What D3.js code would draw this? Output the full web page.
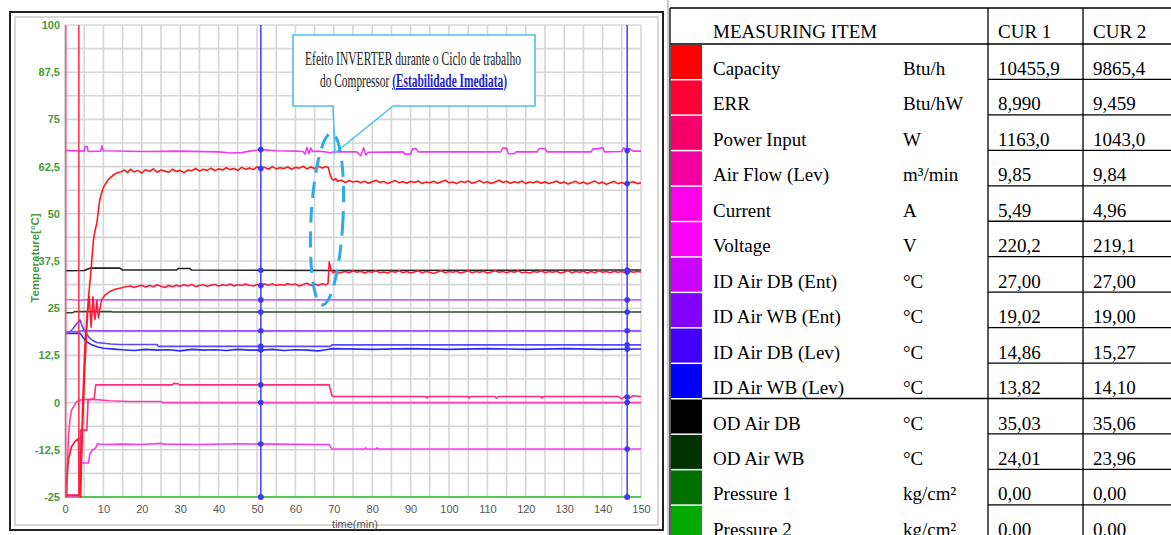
<!DOCTYPE html>
<html>
<head>
<meta charset="utf-8">
<script src="https://cdn.jsdelivr.net/npm/d3@7"></script>
<style>
  body { margin: 0; background: #fff; }
  svg { display: block; }
</style>
</head>
<body>
<div id="chart"></div>
<script>
// Table data
const items = ['Capacity', 'ERR', 'Power Input', 'Air Flow (Lev)', 'Current', 'Voltage',
  'ID Air DB (Ent)', 'ID Air WB (Ent)', 'ID Air DB (Lev)', 'ID Air WB (Lev)',
  'OD Air DB', 'OD Air WB', 'Pressure 1', 'Pressure 2']
const units = ['Btu/h', 'Btu/hW', 'W', 'm³/min', 'A', 'V', '°C', '°C', '°C', '°C', '°C', '°C', 'kg/cm²', 'kg/cm²']
const cur1 = ['10455,9', '8,990', '1163,0', '9,85', '5,49', '220,2', '27,00', '19,02', '14,86', '13,82', '35,03', '24,01', '0,00', '0,00']
const cur2 = ['9865,4', '9,459', '1043,0', '9,84', '4,96', '219,1', '27,00', '19,00', '15,27', '14,10', '35,06', '23,96', '0,00', '0,00']
const swatchColors = ['#ff0000', '#ff0035', '#f5006a', '#f500a0', '#ff00e8', '#ff00ff',
  '#cc00ff', '#8400ff', '#4400ff', '#0000ff', '#000000', '#003300', '#007000', '#00aa00']
const lineColors = ['#ff1a1a', '#ff1a3c', '#ff2a7a', '#ff3cb4', '#f53cf0', '#f03cf0',
  '#c660ff', '#9650ff', '#5a46ff', '#2a2aff', '#222222', '#2b4a2b', '#4cc44c', '#55cc55']

// Cursors and start markers (minutes)
const cursors = [51, 146.4]
const startMarks = [0.2, 3.6]

// Axis ticks
const xTicks = [0, 10, 20, 30, 40, 50, 60, 70, 80, 90, 100, 110, 120, 130, 140, 150]
const yTicks = [-25, -12.5, 0, 12.5, 25, 37.5, 50, 62.5, 75, 87.5, 100]

// Series [time(min), value]
const capacity = [[0.4,-25],[0.5,-20],[0.9,-15],[1.7,-11.7],[2.6,-10.3],[3.5,-9.5],[3.7,-24.5],[3.9,-24.5],
  [4.5,-8],[5.2,10],[5.7,20],[6.1,27.7],[6.6,33],[7.4,43],[7.8,45.5],[8.3,47.6],[8.7,51],[9.1,54],[10,57],
  [11.2,59],[12.5,60.2],[13.5,60.8],[14.8,61.2],[15.5,61.6],[16.3,60.9],[17,61.8],[18,61.1],[19,61.5],[20,60.8],
  [21,61.7],[22,61.2],[23,61.9],[24,61.0],[25,61.6],[26,61.3],[27,61.0],[28,61.8],[29,61.2],[30,61.5],[31,60.9],
  [32,61.6],[33,61.4],[34,62.0],[35,61.3],[36,61.8],[37,61.5],[38,62.1],[39,61.4],[40,61.9],[41,61.6],[42,62.2],
  [43,61.7],[44,62.0],[45,61.5],[46,62.3],[47,61.8],[48,62.1],[49,61.7],[50,62.4],[51,62.0],[52,62.3],[53,61.8],
  [54,62.5],[55,61.9],[56,62.2],[57,62.0],[58,62.4],[59,61.8],[60,62.3],[61,62.1],[62,62.6],[63,61.9],[64,62.4],
  [65,62.0],[66,62.6],[67,62.1],[68,62.5],[68.6,62.2],[69,60.5],[69.5,59.2],[70,58.9],[70.5,59.3],[71,58.6],
  [72,58.9],[73,58.3],[74,58.8],[75,58.4],[76,58.7],[77,58.2],[78,58.6],[79,58.1],[80,58.5],[81,58.9],[82,58.3],
  [83,58.6],[84,58.0],[85,58.4],[86,58.8],[87,58.2],[88,58.5],[89,58.1],[90,58.6],[91,58.3],[92,58.7],[93,58.0],
  [94,58.4],[95,58.2],[96,58.6],[97,58.1],[98,58.5],[99,58.9],[100,58.2],[101,58.4],[102,58.0],[103,58.6],
  [104,58.3],[105,58.7],[106,58.1],[107,58.4],[108,58.8],[109,58.2],[110,58.5],[111,58.0],[112,58.4],[113,58.9],
  [114,58.3],[115,58.6],[116,58.1],[117,58.5],[118,58.2],[119,58.7],[120,58.0],[121,58.4],[122,58.2],[123,58.6],
  [124,58.1],[125,58.5],[126,58.0],[127,58.3],[128,58.7],[129,58.1],[130,58.4],[131,57.9],[132,58.3],[133,58.6],
  [134,58.0],[135,58.4],[136,57.9],[137,58.3],[138,58.7],[139,58.0],[140,58.4],[141,57.8],[142,58.2],[143,58.6],
  [144,58.0],[145,58.3],[146,57.9],[147,58.2],[148,58.5],[149,58.0],[150,58.2]]

const err = [[0.4,-24.6],[3.9,-24.6],[4.1,-25],[4.6,0],[5.2,15],[5.8,24],[6.3,28],[6.8,20],[7.3,28],[7.8,22],
  [8.3,27],[8.7,22.5],[9.5,27.2],[10.5,28.6],[11.7,29.4],[13,30],[14.3,30.3],[15.5,30.6],[17,30.9],[18,30.5],
  [19,30.8],[20,31.1],[21,30.6],[22,31.0],[23,30.7],[24,31.2],[25,30.8],[26,30.5],[27,31.0],[28,30.7],[29,31.1],
  [30,30.8],[31,31.2],[32,30.9],[33,31.3],[34,30.7],[35,31.0],[36,31.2],[37,30.8],[38,31.1],[39,31.3],[40,30.9],
  [41,31.2],[42,31.0],[43,31.4],[44,30.9],[45,31.2],[46,31.0],[47,31.4],[48,31.1],[49,30.9],[50,31.3],[51,31.0],
  [52,31.4],[53,31.1],[54,31.5],[55,31.0],[56,31.3],[57,31.1],[58,31.5],[59,31.2],[60,31.4],[61,30.9],[62,31.3],
  [63,31.6],[64,31.1],[65,31.4],[66,31.0],[67,31.5],[68,31.2],[68.5,31.6],[68.8,37.2],[69.3,35.2],[69.8,34.4],
  [70.5,34.8],[71.5,34.3],[73,34.7],[74,34.4],[75,34.9],[76,34.5],[77,34.8],[78,34.3],[79,34.7],[80,34.5],
  [81,34.9],[82,34.4],[83,34.6],[84,34.3],[85,34.8],[86,34.5],[87,34.9],[88,34.4],[89,34.7],[90,34.3],[91,34.6],
  [92,34.9],[93,34.4],[94,34.7],[95,34.5],[96,34.2],[97,34.6],[98,34.9],[99,34.4],[100,34.7],[101,34.5],
  [102,34.8],[103,34.3],[104,34.6],[105,34.9],[106,34.4],[107,34.7],[108,34.5],[109,34.8],[110,34.3],[111,34.6],
  [112,34.9],[113,34.5],[114,34.7],[115,34.4],[116,34.8],[117,34.5],[118,34.9],[119,34.4],[120,34.6],[121,34.3],
  [122,34.7],[123,34.5],[124,34.9],[125,34.4],[126,34.7],[127,34.5],[128,34.8],[129,34.3],[130,34.6],[131,34.9],
  [132,34.4],[133,34.7],[134,34.5],[135,34.8],[136,34.3],[137,34.7],[138,34.4],[139,34.9],[140,34.5],[141,34.7],
  [142,34.4],[143,34.8],[144,34.5],[145,34.7],[146,34.4],[147,34.8],[148,34.5],[149,34.7],[150,34.6]]

const powerInput = [[0.4,-24.5],[3.9,-24.5],[4.0,-7.3],[5.7,-7.3],[6.0,0.7],[7.6,1.0],[8.0,4.7],[28,4.7],
  [28.3,5.1],[29.5,5.0],[29.8,4.7],[68.8,4.7],[69.5,1.8],[70,1.6],[94,1.6],[94.3,1.2],[94.6,1.6],[105,1.6],
  [105.3,1.2],[105.6,1.6],[112,1.6],[112.3,1.2],[113,1.6],[124,1.6],[124.3,1.2],[124.6,1.6],[144,1.6],[145,1.0],
  [146,1.7],[147,1.2],[148,1.8],[150,1.6]]

const airFlow = [[0,-25],[0.3,-25],[0.4,-23.4],[0.9,-9],[1.3,-4.5],[1.7,-2],[3,0.25],[4,0.7],[5.6,0.9],
  [8,0.8],[11.7,0.5],[17,0.3],[25,0.3],[25.5,0],[150,0]]

const current = [[0.4,-24.7],[3.9,-24.7],[4.1,-16],[6.1,-16],[6.5,-13.5],[7.2,-12.5],[8.0,-12],[8.4,-10.9],
  [10,-11.1],[15,-11.0],[20,-11.1],[25,-10.8],[26,-11.0],[35,-11.1],[45,-10.9],[55,-11.0],[65,-11.1],
  [68.8,-11.1],[69.5,-12.3],[78,-12.3],[78.3,-12.0],[78.6,-12.3],[81,-12.3],[81.3,-12.0],[81.6,-12.3],[150,-12.3]]

const voltage = [[0,66.8],[5,66.6],[5.3,67.9],[5.8,67.8],[6.0,66.5],[9.3,66.6],[9.6,68],[10,66.7],[20,66.5],
  [30,66.6],[40,66.4],[43,66.1],[46,66.2],[48,66.6],[51,67.0],[55,66.7],[60,66.6],[62,66.5],[62.5,65.8],
  [63,67.6],[63.5,65.9],[64,67.4],[64.5,66.5],[66,66.6],[68.5,66.3],[69,66.1],[70,66.4],[76,66.4],[77,65.4],
  [77.8,67.5],[78.3,65.6],[79,66.3],[88,66.4],[88.5,65.8],[90,65.8],[90.5,67.2],[91.5,67.2],[92,66.4],
  [113.5,66.4],[114,67.4],[115,67.4],[115.5,65.9],[117,65.9],[117.5,66.4],[123,66.4],[123.5,67.3],[125,67.3],
  [125.5,66.4],[137,66.4],[137.5,67.2],[139,67.2],[140,67.6],[140.5,66.4],[145,66.5],[145.5,67.5],[146.5,66.7],
  [147,67.3],[148,66.6],[150,66.6]]

const idDbEnt = [[0,27.3],[4,27.1],[4.5,27.2],[150,27.2]]
const idWbEnt = [[0,18.7],[3.9,18.9],[4.2,19.0],[150,19.0]]
const idDbLev = [[0,18.3],[1,18.5],[2,19.5],[3,20.8],[3.9,21.9],[4.5,20.2],[5.5,18.3],[6.5,17.0],[7.5,16.3],
  [8.3,15.9],[10,15.7],[12,15.5],[14.3,15.4],[24,15.4],[24.3,14.9],[69,14.9],[69.5,15.3],[150,15.3]]
const idWbLev = [[0,18.3],[3.9,18.4],[4.6,17.4],[5.6,16.1],[7,15.3],[8.3,14.8],[10,14.4],[13.5,14.1],[15,14.0],
  [18,13.8],[21,14.1],[24,13.9],[27,14.0],[30,13.7],[33,14.1],[36,13.9],[39,14.0],[42,13.8],[45,14.1],[48,13.9],
  [51,13.9],[54,14.1],[57,13.8],[60,14.0],[63,13.9],[66,13.7],[68,14.0],[69.5,14.3],[80,14.1],[90,14.3],
  [100,14.1],[110,14.3],[120,14.1],[130,14.3],[140,14.1],[150,14.2]]
const odDb = [[0,34.9],[5,35.0],[6.5,35.6],[14.3,35.6],[15,35.1],[29,35.1],[29.5,35.5],[32.5,35.5],[33,35.1],
  [70,35.0],[150,35.1]]
const odWb = [[0,23.8],[2,23.8],[2.5,24.1],[12,24.1],[12.3,24.0],[150,24.0]]
const pressure1 = [[0,-25],[150,-25]]
const pressure2 = [[0,-25],[150,-25]]

const seriesValues = [capacity, err, powerInput, airFlow, current, voltage, idDbEnt, idWbEnt,
  idDbLev, idWbLev, odDb, odWb, pressure1, pressure2]

function draw() {
  // Dimensions
  const dimensions = {
    width: 1171,
    height: 535,
    plotLeft: 65,
    plotRight: 641,
    plotTop: 25,
    plotBottom: 497,
  }

  const svg = d3.select('#chart')
    .append('svg')
    .attr('width', dimensions.width)
    .attr('height', dimensions.height)
    .style('font-family', 'Liberation Sans, Arial, sans-serif')

  // Panel frame
  svg.append('rect')
    .attr('x', 10).attr('y', 12).attr('width', 653).attr('height', 518)
    .attr('fill', '#fff').attr('stroke', '#222').attr('stroke-width', 2)
  svg.append('rect')
    .attr('x', 15).attr('y', 17).attr('width', 643).attr('height', 508)
    .attr('fill', 'none').attr('stroke', '#b0b0b0').attr('stroke-width', 1)
  svg.append('line')
    .attr('x1', 668).attr('x2', 668).attr('y1', 0).attr('y2', dimensions.height)
    .attr('stroke', '#999').attr('stroke-width', 1)

  // Scales
  const xScale = d3.scaleLinear()
    .domain([0, 150])
    .range([dimensions.plotLeft, dimensions.plotRight])
  const yScale = d3.scaleLinear()
    .domain([-25, 100])
    .range([dimensions.plotBottom, dimensions.plotTop])

  // Grid
  const grid = svg.append('g').attr('stroke', '#d6d6d6').attr('stroke-width', 1.6)
  grid.selectAll('.vg')
    .data(d3.range(0, 150.01, 5))
    .join('line')
    .attr('x1', d => xScale(d)).attr('x2', d => xScale(d))
    .attr('y1', yScale(100)).attr('y2', yScale(-25))
  grid.selectAll('.hg')
    .data(d3.range(-25, 100.01, 6.25))
    .join('line')
    .attr('x1', xScale(0)).attr('x2', xScale(150))
    .attr('y1', d => yScale(d)).attr('y2', d => yScale(d))

  // Axes
  const yAxis = d3.axisLeft(yScale)
    .tickValues(yTicks)
    .tickSize(0)
    .tickPadding(4)
    .tickFormat(d => String(d).replace('.', ','))
  const yAxisG = svg.append('g')
    .attr('transform', `translate(${dimensions.plotLeft - 1}, 0)`)
    .call(yAxis)
  yAxisG.select('.domain').remove()
  yAxisG.selectAll('text')
    .attr('fill', '#4a9a3c')
    .style('font-size', '11px')
    .style('font-weight', 'bold')
    .style('font-family', 'Liberation Sans, Arial, sans-serif')

  const xAxis = d3.axisBottom(xScale)
    .tickValues(xTicks)
    .tickSize(0)
    .tickPadding(8)
  const xAxisG = svg.append('g')
    .attr('transform', `translate(0, ${dimensions.plotBottom})`)
    .call(xAxis)
  xAxisG.select('.domain').remove()
  xAxisG.selectAll('text')
    .attr('fill', '#555')
    .style('font-size', '11px')
    .style('font-family', 'Liberation Sans, Arial, sans-serif')

  svg.append('text')
    .attr('x', 355).attr('y', 528)
    .attr('text-anchor', 'middle')
    .attr('fill', '#555')
    .style('font-size', '11px')
    .text('time(min)')

  svg.append('text')
    .attr('transform', 'translate(39, 258) rotate(-90)')
    .attr('text-anchor', 'middle')
    .attr('fill', '#4a9a3c')
    .style('font-size', '11.5px')
    .style('font-weight', 'bold')
    .text('Temperature[°C]')

  // Lines
  const lineGen = d3.line()
    .x(d => xScale(d[0]))
    .y(d => yScale(d[1]))

  const lineData = seriesValues.map((values, i) => ({ name: items[i], color: lineColors[i], values }))

  svg.append('g')
    .attr('fill', 'none')
    .attr('stroke-width', 1.6)
    .attr('stroke-linejoin', 'round')
    .selectAll('path')
    .data(lineData.slice().reverse())
    .join('path')
    .attr('stroke', d => d.color)
    .attr('d', d => lineGen(d.values))

  // Start markers
  svg.append('g')
    .selectAll('line')
    .data(startMarks)
    .join('line')
    .attr('x1', d => xScale(d)).attr('x2', d => xScale(d))
    .attr('y1', yScale(100)).attr('y2', yScale(-25))
    .attr('stroke', (d, i) => i === 0 ? '#ff4a6a' : '#ff2a4a')
    .attr('stroke-width', 1.5)

  // Cursor lines and dots
  const bisect = d3.bisector(d => d[0]).left
  const valueAt = (values, t) => {
    const i = bisect(values, t)
    if (i <= 0) return values[0][1]
    if (i >= values.length) return values[values.length - 1][1]
    const a = values[i - 1], b = values[i]
    return a[1] + (b[1] - a[1]) * (t - a[0]) / (b[0] - a[0])
  }

  const cursorG = svg.append('g')
  cursorG.selectAll('line')
    .data(cursors)
    .join('line')
    .attr('x1', d => xScale(d)).attr('x2', d => xScale(d))
    .attr('y1', yScale(100)).attr('y2', yScale(-25))
    .attr('stroke', '#4848ff')
    .attr('stroke-width', 1.6)

  const dots = []
  cursors.forEach(t => seriesValues.forEach(v => dots.push([t, valueAt(v, t)])))
  cursorG.selectAll('circle')
    .data(dots)
    .join('circle')
    .attr('cx', d => xScale(d[0]))
    .attr('cy', d => yScale(d[1]))
    .attr('r', 2.8)
    .attr('fill', '#3a3af0')

  // Annotation callout
  const noteColor = '#4cc0ec'
  svg.append('path')
    .attr('d', 'M293,35 H535 V106 H393 L335,153 L333,106 H293 Z')
    .attr('fill', '#fff')
    .attr('stroke', noteColor)
    .attr('stroke-width', 1.6)

  svg.append('text')
    .attr('x', 305).attr('y', 65)
    .attr('textLength', 216)
    .attr('lengthAdjust', 'spacingAndGlyphs')
    .attr('fill', '#222')
    .style('font-family', 'Liberation Serif, Times New Roman, serif')
    .style('font-size', '18px')
    .text('Efeito INVERTER durante o Ciclo de trabalho')

  const line2 = svg.append('text')
    .attr('x', 320).attr('y', 87)
    .attr('textLength', 187)
    .attr('lengthAdjust', 'spacingAndGlyphs')
    .attr('fill', '#222')
    .style('font-family', 'Liberation Serif, Times New Roman, serif')
    .style('font-size', '18px')
  line2.append('tspan').text('do Compressor ')
  line2.append('tspan')
    .attr('fill', '#2222c8')
    .style('font-weight', 'bold')
    .style('text-decoration', 'underline')
    .text('(Estabilidade Imediata)')

  svg.append('ellipse')
    .attr('cx', 327).attr('cy', 219)
    .attr('rx', 16).attr('ry', 86)
    .attr('transform', 'rotate(3 327 219)')
    .attr('fill', 'none')
    .attr('stroke', '#2eaae4')
    .attr('stroke-width', 3)
    .attr('stroke-dasharray', '16 9')

  // Table
  const table = {
    left: 670,
    swatchRight: 702,
    nameX: 713,
    unitX: 903,
    col1: 988,
    col2: 1083,
    top: 8,
    headerBottom: 44,
    rowH: 35.45,
  }

  const rowScale = d3.scaleBand()
    .domain(items)
    .range([table.headerBottom, table.headerBottom + items.length * table.rowH])

  const tg = svg.append('g')
    .style('font-family', 'Liberation Serif, Times New Roman, serif')
    .style('font-size', '19px')
    .attr('fill', '#000')

  tg.selectAll('rect')
    .data(items)
    .join('rect')
    .attr('x', table.left + 1)
    .attr('y', d => rowScale(d) + 1)
    .attr('width', table.swatchRight - table.left - 1)
    .attr('height', rowScale.bandwidth() - 1.5)
    .attr('fill', (d, i) => swatchColors[i])

  const rowText = (x, values) => tg.append('g')
    .selectAll('text')
    .data(values)
    .join('text')
    .attr('x', x)
    .attr('y', (d, i) => rowScale(items[i]) + 31)
    .text(d => d)

  rowText(table.nameX, items)
  rowText(table.unitX, units)
  rowText(table.col1 + 10, cur1)
  rowText(table.col2 + 10, cur2)

  tg.append('text').attr('x', table.nameX).attr('y', 38).text('MEASURING ITEM')
  tg.append('text').attr('x', table.col1 + 10).attr('y', 38).text('CUR 1')
  tg.append('text').attr('x', table.col2 + 10).attr('y', 38).text('CUR 2')

  const borders = tg.append('g').attr('stroke', '#000').attr('stroke-width', 1.3)
  borders.append('line')
    .attr('x1', table.left).attr('x2', dimensions.width)
    .attr('y1', table.top).attr('y2', table.top)
  borders.append('line')
    .attr('x1', table.left).attr('x2', dimensions.width)
    .attr('y1', table.headerBottom).attr('y2', table.headerBottom)
  borders.selectAll('.v')
    .data([table.left, table.col1, table.col2])
    .join('line')
    .attr('x1', d => d).attr('x2', d => d)
    .attr('y1', table.top).attr('y2', dimensions.height)
  borders.selectAll('.h')
    .data(items.slice(1))
    .join('line')
    .attr('x1', table.col1).attr('x2', dimensions.width)
    .attr('y1', d => rowScale(d)).attr('y2', d => rowScale(d))
  borders.append('line')
    .attr('x1', table.swatchRight).attr('x2', table.col1)
    .attr('y1', rowScale('OD Air DB')).attr('y2', rowScale('OD Air DB'))
}

draw()
</script>
</body>
</html>
